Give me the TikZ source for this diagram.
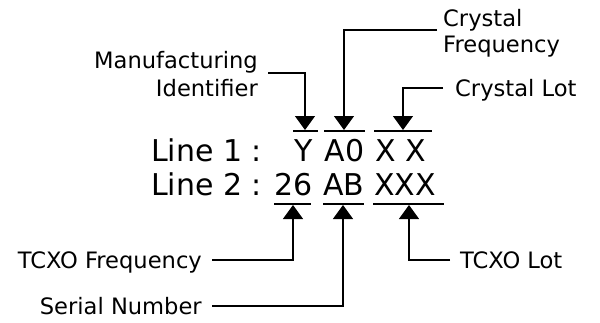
\documentclass[tikz,border=0pt]{standalone}
\usepackage{fontspec}
\setmainfont{DejaVu Sans}
\usetikzlibrary{arrows.meta}
\begin{document}
\begin{tikzpicture}[x=1pt,y=-1pt,
  lbl/.style={font=\fontsize{22.6}{27}\selectfont, inner sep=0pt},
  big/.style={font=\fontsize{30}{34}\selectfont, inner sep=0pt, anchor=base},
  lead/.style={line width=1.2pt, -{Triangle[width=20pt,length=14pt]}},
  bar/.style={line width=1.4pt}]
\useasboundingbox (0,0) rectangle (600,322);
% line texts
\node[big, anchor=base west] (l1) at (151,161) {Line 1 :};
\node[big] (tY) at (303.5,161) {Y};
\node[big] (tA0) at (344.5,161) {A0};
\node[big] (tXX) at (401,161) {X X};
\node[big, anchor=base west] (l2) at (151,195) {Line 2 :};
\node[big] (t26) at (293.5,195) {26};
\node[big] (tAB) at (344,195) {AB};
\node[big] (tXXX) at (405,195) {XXX};
% bars
\draw[bar] (293,131) -- (318,131);
\draw[bar] (324,131) -- (365,131);
\draw[bar] (374,131) -- (432,131);
\draw[bar] (274,204) -- (311,204);
\draw[bar] (323,204) -- (364,204);
\draw[bar] (373,204) -- (444,204);
% tips
\coordinate (pY) at (305,130);
\coordinate (pA0) at (344,130);
\coordinate (pXX) at (403,130);
\coordinate (p26) at (293,205);
\coordinate (pAB) at (343,205);
\coordinate (pXXX) at (409,205);
% labels
\node[lbl, anchor=base east] (mfg1) at (258,68) {Manufacturing};
\node[lbl, anchor=base east] (mfg2) at (258,96) {Identifier};
\node[lbl, anchor=base west] (cf1) at (443,26) {Crystal};
\node[lbl, anchor=base west] (cf2) at (443,52) {Frequency};
\node[lbl, anchor=base west] (cl) at (455,96) {Crystal Lot};
\node[lbl, anchor=base east] (tf) at (202,268) {TCXO Frequency};
\node[lbl, anchor=base east] (sn) at (202,314) {Serial Number};
\node[lbl, anchor=base west] (tl) at (460,268) {TCXO Lot};
% leaders
\draw[lead] ([xshift=10pt,yshift=-5pt]mfg1.base east) -| (pY);
\draw[lead] ([xshift=-6pt,yshift=-4pt]cf1.base west) -| (pA0);
\draw[lead] ([xshift=-12pt,yshift=8pt]cl.base west) -| (pXX);
\draw[lead] ([xshift=10pt,yshift=8pt]tf.base east) -| (p26);
\draw[lead] ([xshift=10pt,yshift=8pt]sn.base east) -| (pAB);
\draw[lead] ([xshift=-10pt,yshift=8pt]tl.base west) -| (pXXX);
\end{tikzpicture}
\end{document}
